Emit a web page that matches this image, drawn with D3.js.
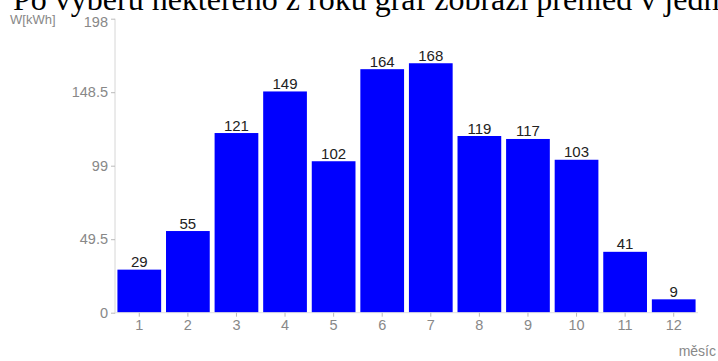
<!DOCTYPE html>
<html>
<head>
<meta charset="utf-8">
<script src="https://cdn.jsdelivr.net/npm/d3@7"></script>
<style>
  body { margin: 0; background: #fff; overflow: hidden; }
</style>
</head>
<body>
<div id="chart"></div>
<script>
// data
const months = ["1", "2", "3", "4", "5", "6", "7", "8", "9", "10", "11", "12"];
const energy = [29, 55, 121, 149, 102, 164, 168, 119, 117, 103, 41, 9];
const yTicks = [0, 49.5, 99, 148.5, 198];

const width = 718;
const height = 361;
const margin = { top: 18.7, right: 20, bottom: 48.3, left: 115 };

const svg = d3.select("#chart")
    .append("svg")
    .attr("width", width)
    .attr("height", height);

// page text above the chart, cut off by the screenshot
svg.append("text")
    .attr("x", 13)
    .attr("y", 10)
    .style("font-family", "'Liberation Serif', 'Times New Roman', serif")
    .style("font-size", "32px")
    .attr("fill", "#000")
    .text("Po výběru některého z roku graf zobrazí přehled v jedn");

const x = d3.scaleBand()
    .domain(months)
    .range([margin.left, 698])
    .paddingInner(0.1)
    .paddingOuter(0.05);

const y = d3.scaleLinear()
    .domain([0, 198])
    .range([height - margin.bottom, margin.top]);

const font = "'Liberation Sans', Arial, Helvetica, sans-serif";

// bars
svg.selectAll(".bar")
    .data(energy)
    .enter()
    .append("rect")
    .attr("class", "bar")
    .attr("x", (d, i) => x(months[i]))
    .attr("y", d => y(d))
    .attr("width", x.bandwidth())
    .attr("height", d => y(0) - y(d))
    .attr("fill", "#0000ff");

// value labels
svg.selectAll(".val")
    .data(energy)
    .enter()
    .append("text")
    .attr("class", "val")
    .attr("x", (d, i) => x(months[i]) + x.bandwidth() / 2)
    .attr("y", d => y(d) - 2.5)
    .attr("text-anchor", "middle")
    .style("font-family", font)
    .style("font-size", "15px")
    .attr("fill", "#222")
    .text(d => d);

// y axis
const yAxis = svg.append("g")
    .attr("transform", `translate(${margin.left},0)`)
    .call(d3.axisLeft(y).tickValues(yTicks).tickSize(4).tickPadding(3).tickFormat(d => d));
yAxis.select(".domain").attr("stroke", "#d6d6d6").attr("d", `M0,${y(198)}V${y(0) + 1}`);
yAxis.selectAll(".tick line").attr("stroke", "#bbb");
yAxis.selectAll(".tick text")
    .style("font-family", font)
    .style("font-size", "14.5px")
    .attr("fill", "#888")
    .attr("dy", d => d === 198 ? "0.55em" : "0.32em"); // top label sits a bit lower

// x axis
const xAxis = svg.append("g")
    .attr("transform", `translate(0,${y(0)})`)
    .call(d3.axisBottom(x).tickSize(4).tickPadding(3));
xAxis.select(".domain").attr("stroke", "#e2e2e2").attr("d", `M${margin.left},0H698`);
xAxis.selectAll(".tick line").attr("stroke", "#bbb");
xAxis.selectAll(".tick text")
    .style("font-family", font)
    .style("font-size", "14.5px")
    .attr("fill", "#888");

// axis titles
svg.append("text")
    .attr("x", 10)
    .attr("y", 24)
    .style("font-family", font)
    .style("font-size", "13px")
    .attr("fill", "#888")
    .text("W[kWh]");

svg.append("text")
    .attr("x", 716)
    .attr("y", 356)
    .attr("text-anchor", "end")
    .style("font-family", font)
    .style("font-size", "14px")
    .attr("fill", "#888")
    .text("měsíc");
</script>
</body>
</html>
